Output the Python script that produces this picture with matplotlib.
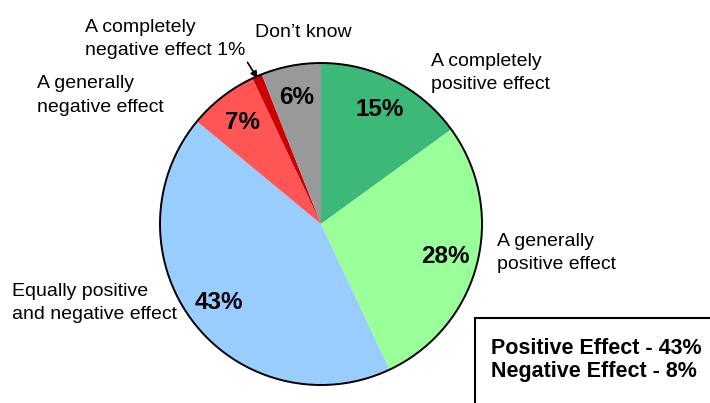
import numpy as np
import matplotlib.pyplot as plt
from matplotlib.patches import Circle, Rectangle

plt.rcParams['font.family'] = ['Liberation Sans', 'DejaVu Sans']

# Slice data (clockwise from 12 o'clock)
shares = [15, 28, 43, 7, 1, 6]
colors = ['#3CB878', '#99FF99', '#99CCFF', '#FF5555', '#CC0000', '#999999']
summary = ['Positive Effect - 43%', 'Negative Effect - 8%']

# figure in pixel units: axes covers the whole canvas
fig = plt.figure(figsize=(7.1, 4.03), dpi=100)
ax = fig.add_axes([0, 0, 1, 1])
W, H = 710, 403
cx, cy, r = 321, H - 224, 161

wedges, _, autotexts = ax.pie(
    shares, colors=colors, startangle=90, counterclock=False,
    center=(cx, cy), radius=r, pctdistance=0.8,
    autopct=lambda p: f'{p:.0f}%' if p > 2 else '',
    wedgeprops=dict(linewidth=0), frame=True)
for t in autotexts:
    t.set_fontsize(17.5)
    t.set_fontweight('bold')

ax.add_patch(Circle((cx, cy), r, fill=False, edgecolor='black', linewidth=1.4))

ax.set_xlim(0, W)
ax.set_ylim(0, H)
ax.set_aspect('equal')
ax.axis('off')

# labels: y is the baseline of the last line
fs = 14
ls = 1.5
ax.text(431, H - 89, 'A completely\npositive effect', fontsize=fs, va='baseline', linespacing=ls)
ax.text(497, H - 269, 'A generally\npositive effect', fontsize=fs, va='baseline', linespacing=ls)
ax.text(12, H - 319, 'Equally positive\nand negative effect', fontsize=fs, va='baseline', linespacing=ls)
ax.text(37, H - 112, 'A generally\nnegative effect', fontsize=fs, va='baseline', linespacing=ls)
ax.text(85, H - 55, 'A completely\nnegative effect 1%', fontsize=fs, va='baseline', linespacing=ls)
ax.text(255, H - 37, 'Don\u2019t know', fontsize=fs, va='baseline')

# arrow to the 1% slice
w = wedges[4]
ang = np.deg2rad((w.theta1 + w.theta2) / 2)
tip = (cx + 0.97 * r * np.cos(ang), cy + 0.97 * r * np.sin(ang))
ax.annotate('', xy=tip, xytext=(246, H - 60),
            arrowprops=dict(arrowstyle='-|>', color='black', lw=1.2, mutation_scale=10))

# summary box
ax.add_patch(Rectangle((475, -10), 260, H - 318 + 10, fill=False,
                       edgecolor='black', linewidth=1.5, clip_on=False))
ax.text(491, H - 377, '\n'.join(summary), fontsize=15.5, fontweight='bold',
        va='baseline', linespacing=1.15)

fig.savefig('out.png', dpi=100)
